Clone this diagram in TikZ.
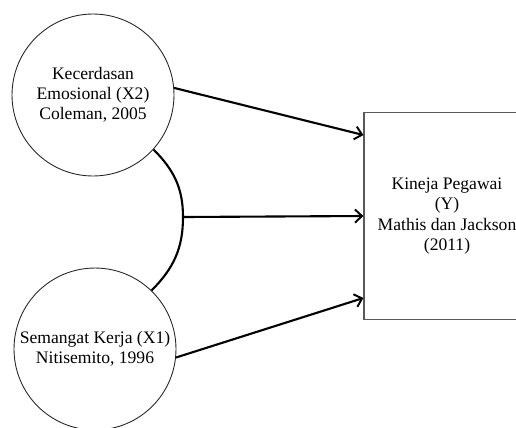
\documentclass[tikz,border=0pt]{standalone}
\usepackage{fontspec}
\setmainfont{Liberation Serif}
\usetikzlibrary{arrows.meta}
\begin{document}
\begin{tikzpicture}[x=0.02cm,y=-0.02cm,
  var/.style={draw=black!85,line width=.5pt,circle,minimum size=3.24cm,inner sep=0pt,align=center,font=\fontsize{10}{11.5}\selectfont},
  hasil/.style={draw=black!65,line width=.7pt,minimum width=3.32cm,minimum height=4.14cm,align=center,font=\fontsize{10}{11.5}\selectfont},
  panah/.style={line width=1.2pt,-{Straight Barb[length=4pt,width=7.5pt,line width=1.1pt]}}]
  \useasboundingbox (0,0) rectangle (516,427);
  \node[var] (kec) at (93,95) {Kecerdasan\\Emosional (X2)\\Coleman, 2005};
  \node[var] (sem) at (95,349) {Semangat Kerja (X1)\\Nitisemito, 1996};
  \node[hasil] (kin) at (447,216) {Kineja Pegawai\\(Y)\\Mathis dan Jackson\\(2011)};
  \coordinate (hub) at (183,217);
    \draw[line width=1.2pt] (kec.-42) to[out=-45,in=90] (hub) to[out=-90,in=45] (sem.46);
    \draw[panah] (kec.5) -- ([yshift=1.62cm]kin.west);
    \draw[panah] (hub) -- (kin.west);
    \draw[panah] (sem.-6) -- ([yshift=-1.64cm]kin.west);
\end{tikzpicture}
\end{document}
